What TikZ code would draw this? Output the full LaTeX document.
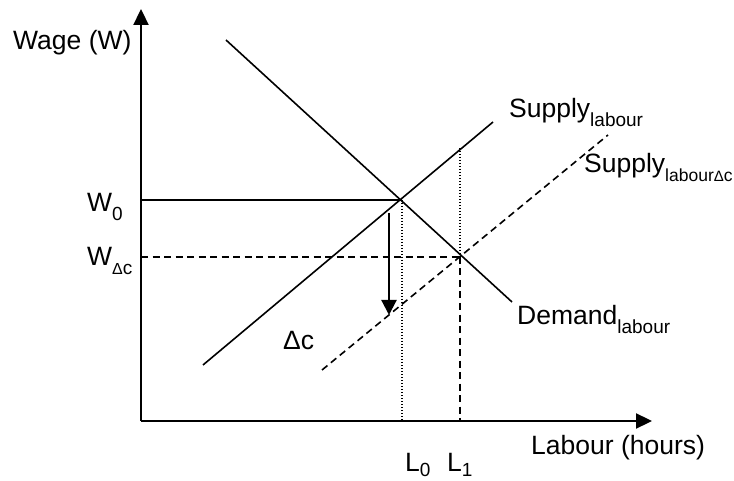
\documentclass[tikz,border=0pt]{standalone}
\usepackage{fontspec}
\setmainfont{Liberation Sans}
\usetikzlibrary{arrows.meta}
\tikzset{
  lbl/.style={anchor=base west, inner sep=0pt, font=\fontsize{26.5}{30}\selectfont},
  axis/.style={line width=2.3pt, -{Triangle[length=16pt,width=15pt]}},
  curve/.style={line width=1.6pt},
  dsh/.style={line width=1.6pt, dash pattern=on 7pt off 4.5pt},
  dtt/.style={line width=1.2pt, dash pattern=on 1.2pt off 1.8pt},
}
\newcommand{\sbs}[2][-9pt]{\raisebox{#1}{\fontsize{19}{21}\selectfont #2}}
\begin{document}
\begin{tikzpicture}[x=1pt,y=-1pt]
\useasboundingbox (0,0) rectangle (734,481);
% key points
\coordinate (O) at (141,421);
\coordinate (ytop) at (141,9);
\coordinate (xend) at (652,421);
\coordinate (E0) at (402,200);
\coordinate (E1) at (460,257);
\coordinate (w0) at (141,200);
\coordinate (wc) at (141,257);
\coordinate (l0) at (402,421);
\coordinate (l1) at (460,421);
\coordinate (l1top) at (460,148);
\coordinate (dA) at (226,40);
\coordinate (dB) at (512,302);
\coordinate (sA) at (203,365);
\coordinate (sB) at (493,122);
\coordinate (scA) at (322,370);
\coordinate (scB) at (608,135);
\coordinate (arA) at (389,213);
\coordinate (arB) at (389,315);
% axes
\draw[axis] (O) -- (ytop);
\draw[axis] (O) -- (xend);
% curves
\draw[curve] (dA) -- (dB);
\draw[curve] (sA) -- (sB);
\draw[dsh] (scA) -- (scB);
% guide lines
\draw[curve] (w0) -- (E0);
\draw[dsh] (wc) -- (E1);
\draw[dtt] (E0) -- (l0);
\draw[dtt] (l1top) -- (E1);
\draw[dsh] (E1) -- (l1);
% shift arrow
\draw[line width=2.2pt, -{Triangle[length=15pt,width=15pt]}] (arA) -- (arB);
% labels
\node[lbl] (wage) at (13,50) {Wage (W)};
\node[lbl] (W0) at (87,212) {W\sbs{0}};
\node[lbl] (Wc) at (87,266) {W\sbs{{\fontsize{16}{18}\selectfont Δ}c}};
\node[lbl] (sup) at (509,118) {Supply\sbs{labour}};
\node[lbl] (supc) at (584,173) {Supply\raisebox{-9pt}{\fontsize{17.5}{20}\selectfont labour{\fontsize{15}{17}\selectfont Δ}c}};
\node[lbl] (dem) at (517,324) {Demand\sbs{labour}};
\node[lbl] (dc) at (283,349) {Δc};
\node[lbl] (lab) at (531,454) {Labour (hours)};
\node[lbl] (L0) at (405,471) {L\sbs[-5pt]{0}};
\node[lbl] (L1) at (447,471) {L\sbs[-5pt]{1}};
\end{tikzpicture}
\end{document}
